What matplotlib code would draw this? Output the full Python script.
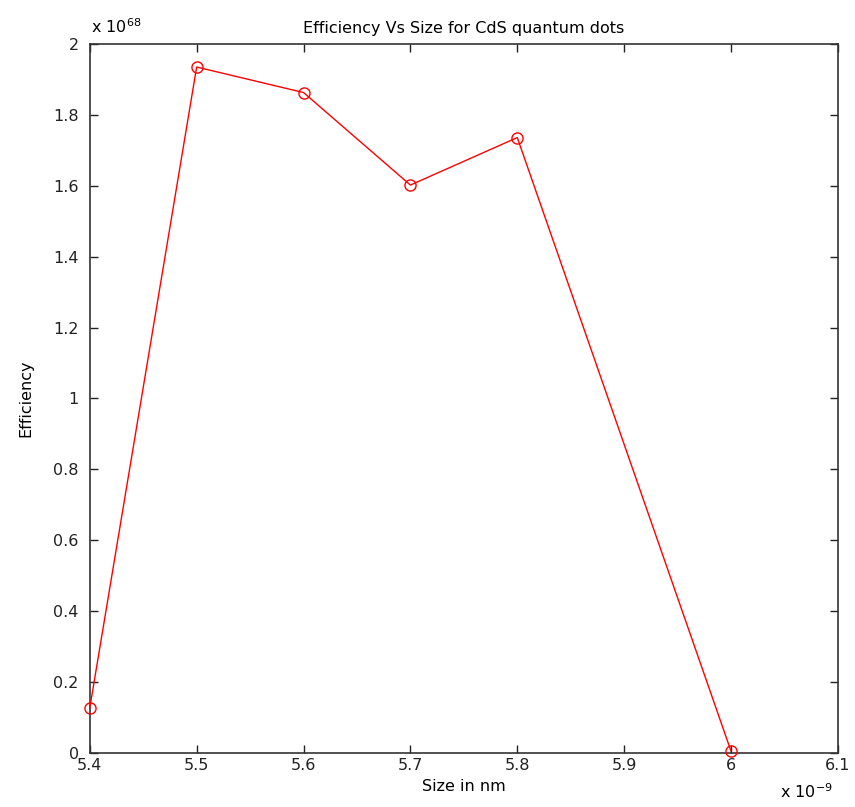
import numpy as np
import matplotlib
matplotlib.use('Agg')
import matplotlib.pyplot as plt
from matplotlib.ticker import FuncFormatter

plt.rcParams['font.family'] = 'DejaVu Sans'
plt.rcParams['mathtext.fontset'] = 'dejavusans'

## data (size in m, efficiency)
size_m = [5.4e-9, 5.5e-9, 5.6e-9, 5.7e-9, 5.8e-9, 6.0e-9]
efficiency = [0.127e68, 1.935e68, 1.863e68, 1.602e68, 1.736e68, 0.005e68]

x_ticks = [5.4e-9, 5.5e-9, 5.6e-9, 5.7e-9, 5.8e-9, 5.9e-9, 6.0e-9, 6.1e-9]
y_ticks = [0, 0.2e68, 0.4e68, 0.6e68, 0.8e68, 1.0e68, 1.2e68, 1.4e68, 1.6e68, 1.8e68, 2.0e68]

fs = 11.5

fig = plt.figure(figsize=(8.55, 8.07), dpi=100)
ax = fig.add_axes([0.105, 0.067, 0.875, 0.8785])

ax.plot(size_m, efficiency, color='red', lw=1, marker='o', mfc='none',
        mec='red', ms=8, mew=1, clip_on=False, zorder=3)

ax.set_xlim(5.4e-9, 6.1e-9)
ax.set_ylim(0, 2e68)
ax.set_xticks(x_ticks)
ax.set_yticks(y_ticks)
ax.xaxis.set_major_formatter(FuncFormatter(lambda v, p: '%g' % round(v / 1e-9, 6)))
ax.yaxis.set_major_formatter(FuncFormatter(lambda v, p: '%g' % round(v / 1e68, 6)))

ax.tick_params(direction='in', length=6, width=1, top=True, right=True,
               labelsize=fs, colors='#222222', pad=4)
ax.tick_params(axis='y', pad=8)
for s in ax.spines.values():
    s.set_linewidth(1.2)
    s.set_color('#333333')

ax.set_title('Efficiency Vs Size for CdS quantum dots', fontsize=fs, pad=8)
ax.set_xlabel('Size in nm', fontsize=fs, labelpad=4)
ax.set_ylabel('Efficiency', fontsize=fs, labelpad=14)

# MATLAB style exponent labels
fig.text(0.107, 0.956, r'x $10^{68}$', fontsize=fs, ha='left', va='bottom')
fig.text(0.912, 0.008, r'x $10^{-9}$', fontsize=fs, ha='left', va='bottom')

fig.savefig('out.png', dpi=100)
